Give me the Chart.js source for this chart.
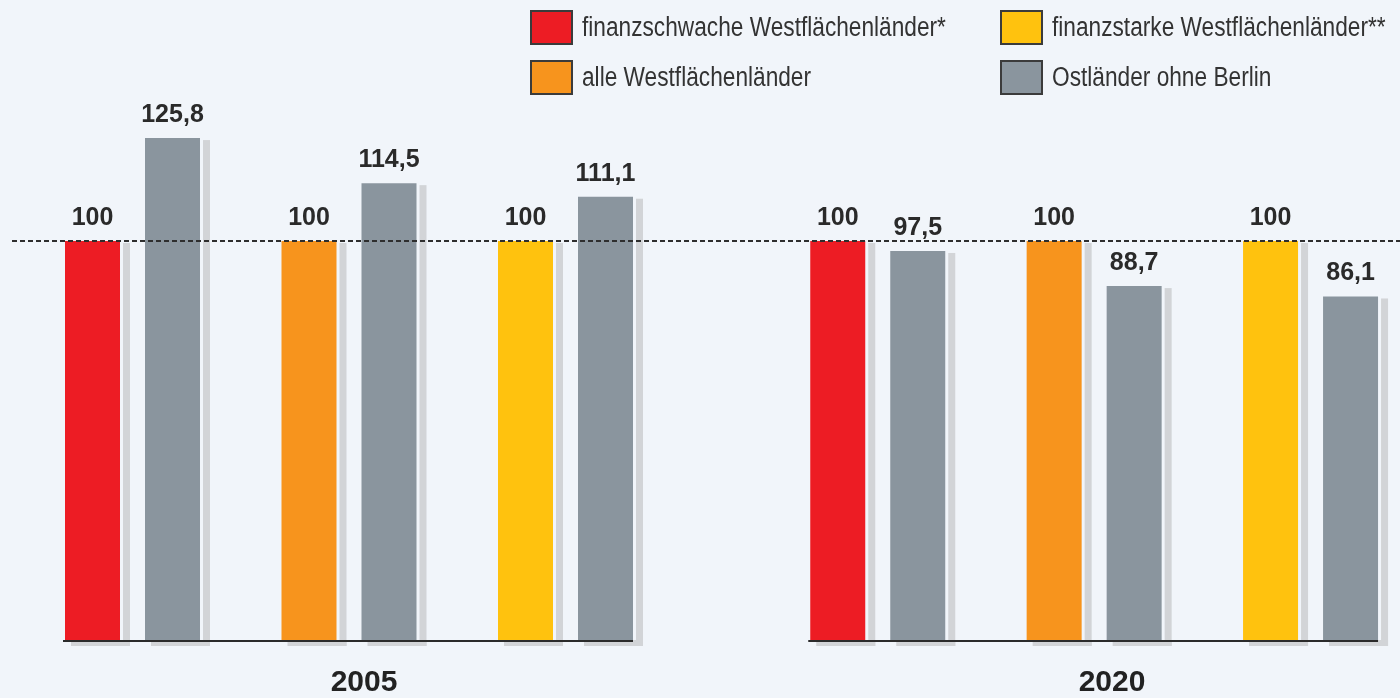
<!DOCTYPE html>
<html lang="de">
<head>
    <meta charset="UTF-8">
    <title>Westflächenländer / Ostländer 2005 und 2020</title>
    <script src="https://cdn.jsdelivr.net/npm/chart.js"></script>
    <style>
        html, body { margin: 0; padding: 0; }
        body {
            width: 1400px; height: 698px; overflow: hidden; position: relative;
            background: #f1f5fa; font-family: "Liberation Sans", Arial, sans-serif;
        }
        canvas { position: absolute; top: 0; }
        #c2005 { left: 0; }
        #c2020 { left: 700px; }
        .legend-item { position: absolute; height: 35px; display: flex; align-items: center; white-space: nowrap; }
        .legend-item .box {
            width: 39px; height: 31px; border: 2px solid #3b3b3b; margin-right: 9px; box-sizing: content-box; flex: none;
        }
        .legend-item span {
            display: inline-block; font-size: 27px; color: #333;
            transform: scaleX(0.84); transform-origin: left center;
        }
        .year {
            position: absolute; top: 666px; width: 120px; text-align: center;
            font-weight: bold; font-size: 30px; line-height: 30px; color: #222;
        }
    </style>
</head>
<body>
    <canvas id="c2005" width="700" height="698"></canvas>
    <canvas id="c2020" width="730" height="698"></canvas>

    <div id="legend"></div>
    <div class="year" style="left: 304px;">2005</div>
    <div class="year" style="left: 1052px;">2020</div>

    <script>
        // Werte (Index, Westflächenländer = 100)
        const groups = ['finanzschwache Westflächenländer*', 'alle Westflächenländer', 'finanzstarke Westflächenländer**'];
        const years = ['2005', '2020'];
        const west2005 = [100, 100, 100];
        const ost2005 = [125.8, 114.5, 111.1];
        const west2020 = [100, 100, 100];
        const ost2020 = [97.5, 88.7, 86.1];

        const westColors = ['#ed1c24', '#f7941d', '#ffc20e'];
        const ostColor = '#8a959e';
        const shadowColor = '#d2d4d7';

        // legend (2 columns)
        const legendItems = [
            { label: groups[0], color: westColors[0], left: 530, top: 10 },
            { label: groups[1], color: westColors[1], left: 530, top: 60 },
            { label: groups[2], color: westColors[2], left: 1000, top: 10 },
            { label: 'Ostländer ohne Berlin', color: ostColor, left: 1000, top: 60 }
        ];
        const legend = document.getElementById('legend');
        legendItems.forEach(item => {
            const div = document.createElement('div');
            div.className = 'legend-item';
            div.style.left = item.left + 'px';
            div.style.top = item.top + 'px';
            div.innerHTML = '<div class="box" style="background:' + item.color + '"></div><span>' + item.label + '</span>';
            legend.appendChild(div);
        });

        // shadow behind bars, dashed 100-line, baseline, value labels
        const decoPlugin = {
            id: 'deco',
            beforeDatasetsDraw(chart, args, opts) {
                const ctx = chart.ctx;
                ctx.save();
                ctx.fillStyle = shadowColor;
                chart.data.datasets.forEach((ds, i) => {
                    chart.getDatasetMeta(i).data.forEach(bar => {
                        const left = bar.x - bar.width / 2;
                        const right = bar.x + bar.width / 2;
                        ctx.fillRect(right + 3, bar.y + 2, 7, bar.base - bar.y + 4);
                        ctx.fillRect(left + 6, bar.base, bar.width + 4, 6);
                    });
                });
                ctx.restore();
            },
            afterDatasetsDraw(chart, args, opts) {
                const ctx = chart.ctx;
                const y = chart.scales.y;
                ctx.save();
                // baseline under the bars
                const first = chart.getDatasetMeta(0).data[0];
                const lastMeta = chart.getDatasetMeta(1).data;
                const last = lastMeta[lastMeta.length - 1];
                ctx.strokeStyle = '#2b2b2b';
                ctx.lineWidth = 2;
                ctx.beginPath();
                ctx.moveTo(first.x - first.width / 2 - 2, first.base + 1);
                ctx.lineTo(last.x + last.width / 2, first.base + 1);
                ctx.stroke();

                // dashed reference line at 100
                const py = Math.round(y.getPixelForValue(100));
                ctx.setLineDash([5, 3]);
                ctx.lineWidth = 2;
                ctx.strokeStyle = '#2e2e2e';
                ctx.beginPath();
                ctx.moveTo(opts.lineStart, py);
                ctx.lineTo(chart.width, py);
                ctx.stroke();
                ctx.setLineDash([]);

                // value labels
                ctx.fillStyle = '#2a2a2a';
                ctx.font = 'bold 25px "Liberation Sans", Arial, sans-serif';
                ctx.textAlign = 'center';
                ctx.textBaseline = 'alphabetic';
                chart.data.datasets.forEach((ds, i) => {
                    chart.getDatasetMeta(i).data.forEach((bar, j) => {
                        const txt = String(ds.data[j]).replace('.', ',');
                        ctx.fillText(txt, bar.x, bar.y - 16);
                    });
                });
                ctx.restore();
            }
        };

        function makeChart(id, west, ost, padding, catPct, lineStart) {
            return new Chart(document.getElementById(id).getContext('2d'), {
                type: 'bar',
                data: {
                    labels: groups,
                    datasets: [
                        {
                            label: 'Westflächenländer',
                            data: west,
                            backgroundColor: westColors,
                            borderWidth: 0,
                            categoryPercentage: catPct,
                            barPercentage: 0.6875
                        },
                        {
                            label: 'Ostländer ohne Berlin',
                            data: ost,
                            backgroundColor: ostColor,
                            borderWidth: 0,
                            categoryPercentage: catPct,
                            barPercentage: 0.6875
                        }
                    ]
                },
                options: {
                    responsive: false,
                    animation: false,
                    layout: { padding: padding },
                    plugins: {
                        legend: { display: false },
                        tooltip: { enabled: false },
                        deco: { lineStart: lineStart }
                    },
                    scales: {
                        x: { display: false },
                        y: { display: false, min: 0, max: 140 }
                    }
                },
                plugins: [decoPlugin]
            });
        }

        makeChart('c2005', west2005, ost2005, { left: 24.25, right: 26.25, top: 81.4, bottom: 58 }, 160 / 216.5, 12);
        makeChart('c2020', west2020, ost2020, { left: 69.55, right: 11.25, top: 81.4, bottom: 58 }, 160 / 216.4, 0);
    </script>
</body>
</html>
